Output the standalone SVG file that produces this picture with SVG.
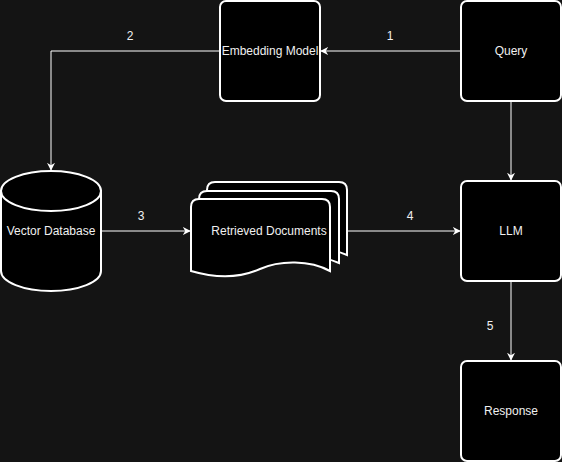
<svg xmlns="http://www.w3.org/2000/svg" width="562" height="462" viewBox="0 0 562 462">
<defs>
<style>
.node{fill:#000;stroke:#fff;stroke-width:2}
.edge{fill:none;stroke:#fff;stroke-width:1}
text{font-family:"Liberation Sans",Arial,sans-serif;font-size:12px;fill:#f0f0f0}
.c{text-anchor:middle;dominant-baseline:central}
</style>
<marker id="arr" viewBox="0 0 10 10" refX="9" refY="5" markerWidth="8" markerHeight="8" markerUnits="userSpaceOnUse" orient="auto">
<path d="M0,0 L10,5 L0,10 L3,5 Z" fill="#fff"/>
</marker>
</defs>
<rect width="562" height="462" fill="#141414"/>
<g id="connectors">
<path class="edge" d="M461,51 L321,51" marker-end="url(#arr)"/>
<path class="edge" d="M220,51 L51,51 L51,170" marker-end="url(#arr)"/>
<path class="edge" d="M101,231 L190,231" marker-end="url(#arr)"/>
<path class="edge" d="M347,231 L460,231" marker-end="url(#arr)"/>
<path class="edge" d="M511,101 L511,180" marker-end="url(#arr)"/>
<path class="edge" d="M511,281 L511,360" marker-end="url(#arr)"/>
<text class="c" x="390" y="36">1</text>
<text class="c" x="130" y="36">2</text>
<text class="c" x="141" y="216">3</text>
<text class="c" x="410" y="216">4</text>
<text class="c" x="490" y="326">5</text>
</g>
<g id="query">
<rect class="node" x="461" y="1" width="100" height="100" rx="6"/>
<text class="c" x="511" y="51">Query</text>
</g>
<g id="embedding-model">
<rect class="node" x="220" y="1" width="100" height="100" rx="6"/>
<text class="c" x="270" y="51">Embedding Model</text>
</g>
<g id="vector-database">
<path class="node" d="M1,191 L1,271 A50,20 0 0 0 101,271 L101,191 Z"/>
<ellipse class="node" cx="51" cy="191" rx="50" ry="20"/>
<text class="c" x="51" y="231">Vector Database</text>
</g>
<g id="retrieved-documents">
<path class="node" d="M215,182 L339,182 Q347,182 347,190 L347,255 C327,246 297,246 277,254 C257,262 232,262 207,255 L207,190 Q207,182 215,182 Z"/>
<path class="node" d="M207,191 L331,191 Q339,191 339,199 L339,263 C319,254 289,254 269,262 C249,270 224,270 199,263 L199,199 Q199,191 207,191 Z"/>
<path class="node" d="M199,199 L322,199 Q330,199 330,207 L330,271 C310,260 280,260 260,269 C240,278 215,278 191,271 L191,207 Q191,199 199,199 Z"/>
<text class="c" x="269" y="231">Retrieved Documents</text>
</g>
<g id="llm">
<rect class="node" x="461" y="181" width="100" height="100" rx="6"/>
<text class="c" x="511" y="231">LLM</text>
</g>
<g id="response">
<rect class="node" x="461" y="361" width="100" height="100" rx="6"/>
<text class="c" x="511" y="411">Response</text>
</g>
</svg>
